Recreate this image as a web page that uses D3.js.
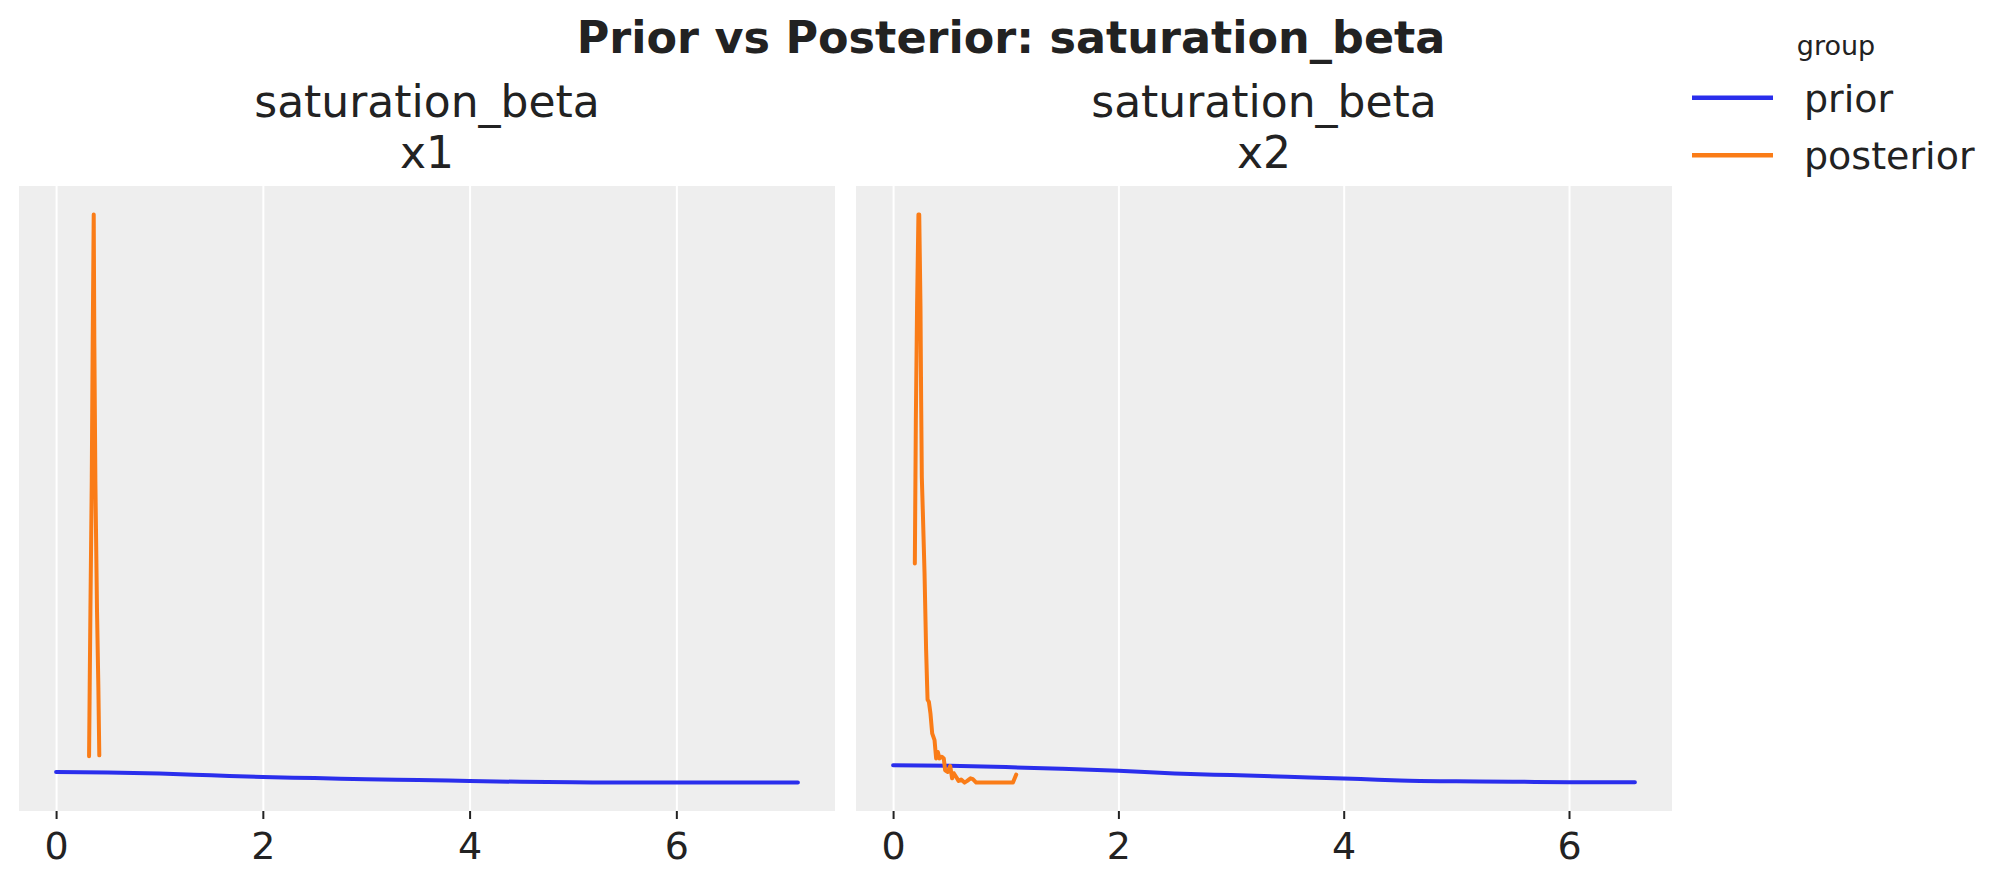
<!DOCTYPE html>
<html>
<head>
<meta charset="utf-8">
<script src="https://cdn.jsdelivr.net/npm/d3@7"></script>
<style>
  body { margin: 0; background: #fff; }
  text { font-family: "DejaVu Sans", sans-serif; fill: #222; }
</style>
</head>
<body>
<div id="chart-area"></div>
<script>
const groups = ["prior", "posterior"];
const colors = ["#2a2eec", "#fa7c17"];
const variable = "saturation_beta";
const channels = ["x1", "x2"];
const xTicks = [0, 2, 4, 6];

// [value, density]
const priorX1 = [
  [0, 0.42], [0.5, 0.40], [1, 0.36], [1.5, 0.29], [2, 0.22], [2.5, 0.18],
  [3, 0.13], [3.5, 0.10], [4, 0.064], [4.5, 0.03], [5, 0.01], [5.5, 0.0],
  [6, 0.0], [6.5, 0.0], [7.176, 0.0]
];
const posteriorX1 = [
  [0.319, 1.05], [0.325, 3.79], [0.332, 6.85], [0.345, 12.05], [0.354, 17.57],
  [0.364, 22.74], [0.370, 17.57], [0.380, 12.05], [0.396, 6.85], [0.409, 3.79],
  [0.418, 1.09]
];
const priorX2 = [
  [0, 0.41], [0.5, 0.395], [1, 0.365], [1.5, 0.325], [2, 0.278], [2.5, 0.216],
  [3, 0.176], [3.5, 0.136], [4, 0.099], [4.3, 0.066], [4.5, 0.05], [5, 0.03],
  [5.5, 0.02], [6, 0.01], [6.585, 0.01]
];
const posteriorX2 = [
  [0.193, 5.16], [0.202, 8.54], [0.213, 11.24], [0.225, 13.38], [0.232, 13.38],
  [0.243, 11.24], [0.249, 8.99], [0.255, 7.19], [0.264, 6.38], [0.279, 4.94],
  [0.293, 3.14], [0.302, 2.3], [0.306, 1.95], [0.318, 1.90], [0.332, 1.62],
  [0.347, 1.16], [0.368, 1.0], [0.382, 0.57], [0.397, 0.72], [0.412, 0.57],
  [0.433, 0.61], [0.45, 0.57], [0.462, 0.29], [0.486, 0.25], [0.507, 0.39],
  [0.524, 0.10], [0.539, 0.22], [0.563, 0.12], [0.581, 0.04], [0.604, 0.07],
  [0.634, 0.0], [0.658, 0.04], [0.687, 0.10], [0.708, 0.08], [0.738, 0.0],
  [1.064, 0.0], [1.093, 0.19]
];

const priors = [priorX1, priorX2];
const posteriors = [posteriorX1, posteriorX2];

const chartSize = { width: 2012, height: 887 };
const panel = { left: 19, top: 186, width: 816, height: 625, gap: 21 };

const padExtent = ext => {
  const d = ext[1] - ext[0];
  return [ext[0] - d * 0.05, ext[1] + d * 0.05];
};

const drawPanel = (svg, i) => {
  const series = [priors[i], posteriors[i]];
  const all = series.flat();

  const x = d3
    .scaleLinear()
    .domain(padExtent(d3.extent(all, d => d[0])))
    .range([0, panel.width]);

  const y = d3
    .scaleLinear()
    .domain(padExtent(d3.extent(all, d => d[1])))
    .range([panel.height, 0]);

  const g = svg
    .append("g")
    .attr("class", "panel")
    .attr("transform", `translate(${panel.left + i * (panel.width + panel.gap)}, ${panel.top})`);

  g.append("rect")
    .attr("width", panel.width)
    .attr("height", panel.height)
    .attr("fill", "#eeeeee");

  // vertical grid
  g.append("g")
    .attr("class", "grid")
    .attr("transform", `translate(0, ${panel.height})`)
    .call(d3.axisBottom(x).tickValues(xTicks).tickSize(-panel.height).tickFormat(""))
    .call(s => s.select(".domain").remove())
    .call(s => s.selectAll("line").attr("stroke", "#fff").attr("stroke-width", 2));

  const xAxis = g
    .append("g")
    .attr("class", "x axis")
    .attr("transform", `translate(0, ${panel.height})`)
    .call(d3.axisBottom(x).tickValues(xTicks).tickSize(8).tickPadding(13));
  xAxis.select(".domain").remove();
  xAxis.selectAll("line").attr("stroke", "#222").attr("stroke-width", 2);
  xAxis.selectAll("text")
    .attr("font-size", 38)
    .attr("font-family", "DejaVu Sans, sans-serif")
    .attr("fill", "#222");

  // prior is a smooth kde, posterior keeps its jagged steps
  const curves = [d3.curveMonotoneX, d3.curveLinear];

  series.forEach((s, k) => {
    const line = d3
      .line()
      .curve(curves[k])
      .x(d => x(d[0]))
      .y(d => y(d[1]));
    g.append("path")
      .attr("d", line(s))
      .attr("fill", "none")
      .attr("stroke", colors[k])
      .attr("stroke-width", 4)
      .attr("stroke-linejoin", "round")
      .attr("stroke-linecap", "round");
  });

  const cx = panel.width / 2;
  g.append("text")
    .attr("x", cx)
    .attr("y", 117 - panel.top)
    .attr("text-anchor", "middle")
    .attr("font-size", 44)
    .text(variable);
  g.append("text")
    .attr("x", cx)
    .attr("y", 168 - panel.top)
    .attr("text-anchor", "middle")
    .attr("font-size", 44)
    .text(channels[i]);
};

const drawLegend = svg => {
  const lg = svg.append("g").attr("class", "legend");
  lg.append("text")
    .attr("x", 1836)
    .attr("y", 55)
    .attr("text-anchor", "middle")
    .attr("font-size", 27)
    .text("group");

  groups.forEach((name, k) => {
    const ly = 97.7 + k * 57.6;
    lg.append("line")
      .attr("x1", 1692)
      .attr("x2", 1773)
      .attr("y1", ly)
      .attr("y2", ly)
      .attr("stroke", colors[k])
      .attr("stroke-width", 4.4);
    lg.append("text")
      .attr("x", 1804)
      .attr("y", ly + 14)
      .attr("font-size", 38)
      .text(name);
  });
};

const main = () => {
  const svg = d3
    .select("#chart-area")
    .append("svg")
    .attr("width", chartSize.width)
    .attr("height", chartSize.height);

  svg.append("text")
    .attr("x", 1011)
    .attr("y", 53)
    .attr("text-anchor", "middle")
    .attr("font-size", 44.5)
    .attr("font-weight", "bold")
    .text(`Prior vs Posterior: ${variable}`);

  channels.forEach((c, i) => drawPanel(svg, i));
  drawLegend(svg);
};

main();
</script>
</body>
</html>
